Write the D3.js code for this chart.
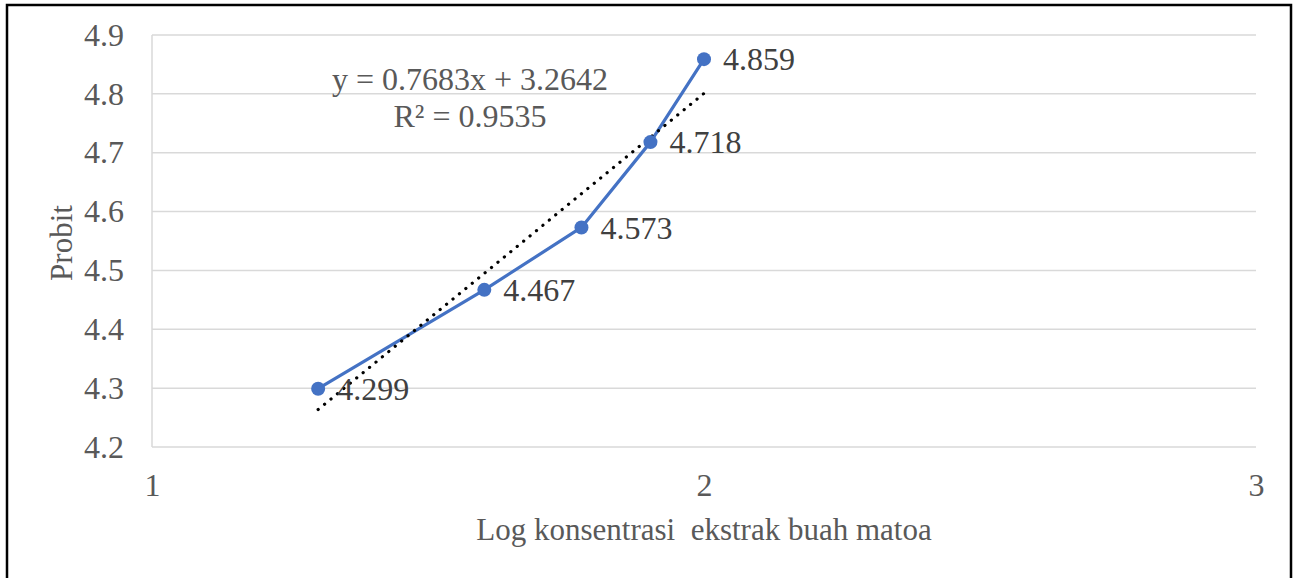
<!DOCTYPE html>
<html><head><meta charset="utf-8">
<script src="https://cdn.jsdelivr.net/npm/d3@7"></script>
<style>body{margin:0;background:#fff;} text{font-family:"Liberation Serif","Times New Roman",serif;}</style>
</head><body>
<svg id="chart" width="1295" height="578"></svg>
<script>
const xValues = [1.301, 1.602, 1.778, 1.903, 2.0];
const probit = [4.299, 4.467, 4.573, 4.718, 4.859];
const xTicks = [1, 2, 3];
const yTicks = [4.2, 4.3, 4.4, 4.5, 4.6, 4.7, 4.8, 4.9];
const slope = 0.7683, intercept = 3.2642, r2 = 0.9535;
const xTitle = "Log konsentrasi\u00a0 ekstrak buah matoa";
const yTitle = "Probit";

const FS = "32px";
const svg = d3.select("#chart");
svg.append("rect").attr("x", 7).attr("y", 5).attr("width", 1284).attr("height", 600)
  .attr("fill", "#fff").attr("stroke", "#000").attr("stroke-width", 2.5);

const x = d3.scaleLinear().domain([1, 3]).range([152, 1256]);
const y = d3.scaleLinear().domain([4.2, 4.9]).range([447, 35]);

// gridlines
svg.append("g").selectAll("line").data(yTicks).join("line")
  .attr("x1", x(1)).attr("x2", x(3)).attr("y1", d => y(d)).attr("y2", d => y(d))
  .attr("stroke", "#d9d9d9").attr("stroke-width", 1.5);
svg.append("line").attr("x1", x(1)).attr("x2", x(1)).attr("y1", y(4.2)).attr("y2", y(4.9))
  .attr("stroke", "#d9d9d9").attr("stroke-width", 1.5);

// y axis labels
const yAxis = d3.axisLeft(y).tickValues(yTicks).tickFormat(d3.format(".1f")).tickSize(0).tickPadding(28);
const gy = svg.append("g").attr("transform", `translate(${x(1)},0)`).call(yAxis);
gy.select(".domain").remove();
gy.selectAll("text").attr("fill", "#595959").style("font-size", FS).style("font-family", "Liberation Serif");

const xAxis = d3.axisBottom(x).tickValues(xTicks).tickFormat(d3.format("d")).tickSize(0).tickPadding(26);
const gx = svg.append("g").attr("transform", `translate(0,${y(4.2)})`).call(xAxis);
gx.select(".domain").remove();
gx.selectAll("text").attr("fill", "#595959").style("font-size", FS).style("font-family", "Liberation Serif");

// axis titles
svg.append("text").attr("x", 704).attr("y", 540).attr("text-anchor", "middle")
  .attr("fill", "#595959").style("font-size", "31px").text(xTitle);
svg.append("text").attr("transform", "translate(72,243) rotate(-90)").attr("text-anchor", "middle")
  .attr("fill", "#595959").style("font-size", "31px").text(yTitle);

// series line
const pts = xValues.map((v, i) => [v, probit[i]]);
svg.append("path").datum(pts)
  .attr("d", d3.line().x(d => x(d[0])).y(d => y(d[1])))
  .attr("fill", "none").attr("stroke", "#4472C4").attr("stroke-width", 3.2).attr("stroke-linejoin", "round");

// trendline
const xr = d3.extent(xValues);
const trend = xr.map(v => [v, slope * v + intercept]);
svg.append("path").datum(trend)
  .attr("d", d3.line().x(d => x(d[0])).y(d => y(d[1])))
  .attr("fill", "none").attr("stroke", "#000").attr("stroke-width", 3.2)
  .attr("stroke-dasharray", "0.1 8.2").attr("stroke-linecap", "round");

// markers
svg.append("g").selectAll("circle").data(pts).join("circle")
  .attr("cx", d => x(d[0])).attr("cy", d => y(d[1])).attr("r", 7).attr("fill", "#4472C4");

// data labels
svg.append("g").selectAll("text").data(pts).join("text")
  .attr("x", d => x(d[0]) + 19).attr("y", d => y(d[1])).attr("dy", "0.35em")
  .attr("fill", "#404040").style("font-size", FS).text(d => d3.format(".3f")(d[1]));

// equation
const eq = svg.append("text").attr("text-anchor", "middle").attr("fill", "#595959").style("font-size", FS);
eq.append("tspan").attr("x", 470).attr("y", 90).text(`y = ${slope}x + ${intercept}`);
eq.append("tspan").attr("x", 470).attr("y", 127).text(`R² = ${r2}`);
</script>
</body></html>
